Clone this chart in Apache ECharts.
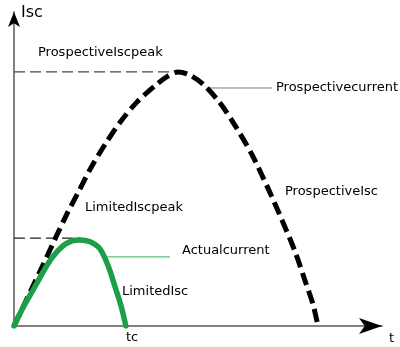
<!DOCTYPE html>
<html>
<head>
<meta charset="utf-8">
<script src="https://cdn.jsdelivr.net/npm/echarts@6/dist/echarts.min.js"></script>
<style>html,body{margin:0;padding:0;background:#fff}#c{width:400px;height:347px}</style>
</head>
<body>
<div id="c"></div>
<script>
// Prospective short-circuit current (arbitrary units, t: 0..100, I: 0..100)
const prospectiveT = [0, 7.1, 14.1, 17.9, 21.2, 25.0, 29.1, 33.4, 38.6, 41.8, 44.6, 47.8, 51.6, 56.0, 60.3, 64.7, 69.0, 72.8, 76.4, 79.3, 81.3, 82.6];
const prospectiveI = [0, 17.5, 35.0, 43.6, 51.0, 58.3, 65.3, 71.3, 76.8, 79.6, 80.9, 79.9, 76.8, 71.0, 63.4, 54.5, 43.9, 33.8, 23.6, 13.7, 6.7, 0];
// Limited (actual) current
const limitedT = [0, 2.7, 5.2, 7.9, 10.3, 13.3, 15.8, 17.9, 20.7, 23.4, 25.5, 27.4, 29.1, 30.4];
const limitedI = [0, 6.4, 11.5, 17.2, 21.7, 25.5, 27.1, 27.4, 26.8, 24.5, 19.4, 12.7, 6.4, 0];
// Peak guide values
const prospectivePeak = 80.9, prospectivePeakT = 42.4;
const limitedPeak = 28.0, limitedPeakT = 17.9;
// Leader lines [t0, t1, I]
const prospectiveLeader = [52.4, 70.1, 75.8];
const limitedLeader = [25.3, 42.4, 22.0];
// Text labels
const axisLabels = { y: 'Isc', x: 't', tc: 'tc' };
const noteLabels = ['ProspectiveIscpeak', 'Prospectivecurrent', 'ProspectiveIsc', 'LimitedIscpeak', 'Actualcurrent', 'LimitedIsc'];

const zip = (a, b) => a.map((v, i) => [v, b[i]]);
const chart = echarts.init(document.getElementById('c'), null, { renderer: 'canvas' });
const font = '13px "DejaVu Sans"';
const txt = (text, x, y, f) => ({ type: 'text', x, y, silent: true, style: { text, font: f || font, fill: '#000', align: 'left', verticalAlign: 'middle' } });

const axisCommon = { min: 0, max: 100, splitLine: { show: false }, axisTick: { show: false }, axisLabel: { show: false } };
chart.setOption({
  animation: false,
  grid: { left: 14, right: 18, top: 12, bottom: 21 },
  xAxis: [
    Object.assign({ type: 'value', position: 'bottom', axisLine: { show: true, onZero: false, lineStyle: { color: '#808080', width: 2 } } }, axisCommon),
    Object.assign({ type: 'value', position: 'bottom', axisLine: { show: true, onZero: false, symbol: ['none', 'arrow'], symbolSize: [12, 23], lineStyle: { color: '#000', width: 0 } } }, axisCommon)
  ],
  yAxis: [
    Object.assign({ type: 'value', position: 'left', axisLine: { show: true, onZero: false, lineStyle: { color: '#808080', width: 2 } } }, axisCommon),
    Object.assign({ type: 'value', position: 'left', axisLine: { show: true, onZero: false, symbol: ['none', 'arrow'], symbolSize: [9, 15], lineStyle: { color: '#000', width: 0 } } }, axisCommon)
  ],
  series: [
    { type: 'line', data: [[0, prospectivePeak], [prospectivePeakT, prospectivePeak]], symbol: 'none', lineStyle: { color: '#444', width: 1.2, type: [11, 5] } },
    { type: 'line', data: [[0, limitedPeak], [limitedPeakT, limitedPeak]], symbol: 'none', lineStyle: { color: '#222', width: 1.2, type: [11, 5] } },
    { type: 'line', data: [[prospectiveLeader[0], prospectiveLeader[2]], [prospectiveLeader[1], prospectiveLeader[2]]], symbol: 'none', lineStyle: { color: '#777', width: 1 } },
    { type: 'line', data: [[limitedLeader[0], limitedLeader[2]], [limitedLeader[1], limitedLeader[2]]], symbol: 'none', lineStyle: { color: '#5cbf78', width: 1.2 } },
    { type: 'line', data: zip(prospectiveT, prospectiveI), symbol: 'none', smooth: 0.3, lineStyle: { color: '#000', width: 5, type: [13, 6], cap: 'butt' } },
    { type: 'line', data: zip(limitedT, limitedI), symbol: 'none', smooth: 0.3, lineStyle: { color: '#1c9f48', width: 5.5, cap: 'round' } }
  ],
  graphic: [
    txt(axisLabels.y, 21, 13, '16px "DejaVu Sans"'),
    txt(noteLabels[0], 38, 53),
    txt(noteLabels[1], 276, 88),
    txt(noteLabels[2], 285, 192),
    txt(noteLabels[3], 85, 208),
    txt(noteLabels[4], 182, 251),
    txt(noteLabels[5], 122, 292),
    txt(axisLabels.tc, 126, 338),
    txt(axisLabels.x, 389, 339)
  ]
});
</script>
</body>
</html>
